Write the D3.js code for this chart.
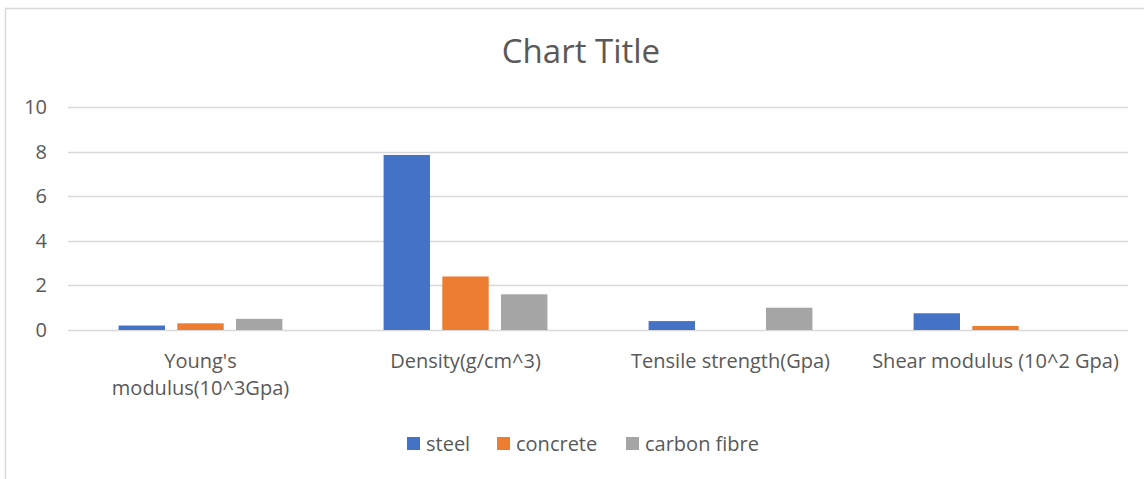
<!DOCTYPE html>
<html>
<head>
<meta charset="utf-8">
<script src="https://cdn.jsdelivr.net/npm/d3@7"></script>
<style>
  html, body { margin: 0; padding: 0; background: #fff; }
  svg { display: block; }
  text { font-family: "Open Sans", "Liberation Sans", sans-serif; fill: #595959; }
</style>
</head>
<body>
<svg id="chart" width="1144" height="479"></svg>
<script>
// Material properties, grouped by property
const categories = ["Young's modulus(10^3Gpa)", "Density(g/cm^3)", "Tensile strength(Gpa)", "Shear modulus (10^2 Gpa)"];
const seriesNames = ["steel", "concrete", "carbon fibre"];
const steel = [0.2, 7.85, 0.4, 0.75];
const concrete = [0.3, 2.4, 0, 0.18];
const carbonFibre = [0.5, 1.6, 1.0, 0];
const yTicks = [0, 2, 4, 6, 8, 10];
const colors = ["#4472C4", "#ED7D31", "#A5A5A5"];
const chartTitle = "Chart Title";

const seriesValues = [steel, concrete, carbonFibre];

const W = 1144, H = 479;
const plot = { left: 68, right: 1128, top: 107, bottom: 330 };
const labelSize = "20px";

const svg = d3.select("#chart");

// outer chart frame
svg.append("rect")
  .attr("x", 5.5).attr("y", 8.5)
  .attr("width", W + 10).attr("height", H + 10)
  .attr("fill", "#fff").attr("stroke", "#d9d9d9").attr("stroke-width", 1.5);

// title
svg.append("text")
  .attr("x", 581).attr("y", 63)
  .attr("text-anchor", "middle")
  .style("font-size", "33px")
  .text(chartTitle);

const x0 = d3.scaleBand().domain(categories).range([plot.left, plot.right]).padding(0);
const x1 = d3.scaleBand().domain(seriesNames)
  .range([50.6, x0.bandwidth() - 50.6]).paddingInner(0.21).paddingOuter(0);
const y = d3.scaleLinear().domain([0, 10]).range([plot.bottom, plot.top]);

// horizontal gridlines
svg.append("g")
  .selectAll("line").data(yTicks).join("line")
  .attr("x1", plot.left).attr("x2", plot.right)
  .attr("y1", d => Math.round(y(d)) + 0.5).attr("y2", d => Math.round(y(d)) + 0.5)
  .attr("stroke", "#d9d9d9").attr("stroke-width", 1.5);

// y axis labels
const yAxis = d3.axisLeft(y).tickValues(yTicks).tickSize(0).tickPadding(0);
const yg = svg.append("g").attr("transform", `translate(47,0)`).call(yAxis);
yg.select(".domain").remove();
yg.selectAll("text").style("font-size", labelSize).attr("fill", "#595959").attr("font-family", null);

// bars
const groups = svg.append("g").selectAll("g").data(categories).join("g")
  .attr("transform", d => `translate(${x0(d)},0)`);
groups.selectAll("rect")
  .data((c, i) => seriesNames.map((s, j) => ({ s, v: seriesValues[j][i], j })))
  .join("rect")
  .attr("x", d => x1(d.s))
  .attr("width", x1.bandwidth())
  .attr("y", d => y(d.v))
  .attr("height", d => y(0) - y(d.v))
  .attr("fill", d => colors[d.j]);

// category labels with word wrapping
const labelG = svg.append("g");
const wrapWidth = 250;
categories.forEach(c => {
  const cx = x0(c) + x0.bandwidth() / 2;
  const t = labelG.append("text")
    .attr("text-anchor", "middle")
    .style("font-size", labelSize)
    .attr("y", 368);
  const words = c.split(" ");
  let line = [];
  let tspan = t.append("tspan").attr("x", cx).attr("dy", 0);
  words.forEach(w => {
    line.push(w);
    tspan.text(line.join(" "));
    if (tspan.node().getComputedTextLength() > wrapWidth && line.length > 1) {
      line.pop();
      tspan.text(line.join(" "));
      line = [w];
      tspan = t.append("tspan").attr("x", cx).attr("dy", 27).text(w);
    }
  });
});

// legend
const legend = svg.append("g").attr("transform", "translate(0,444)");
const legendX = [407, 497, 626];
seriesNames.forEach((s, i) => {
  legend.append("rect")
    .attr("x", legendX[i]).attr("y", -7)
    .attr("width", 13).attr("height", 13)
    .attr("fill", colors[i]);
  legend.append("text")
    .attr("x", legendX[i] + 19).attr("y", 7)
    .style("font-size", labelSize)
    .text(s);
});
</script>
</body>
</html>
